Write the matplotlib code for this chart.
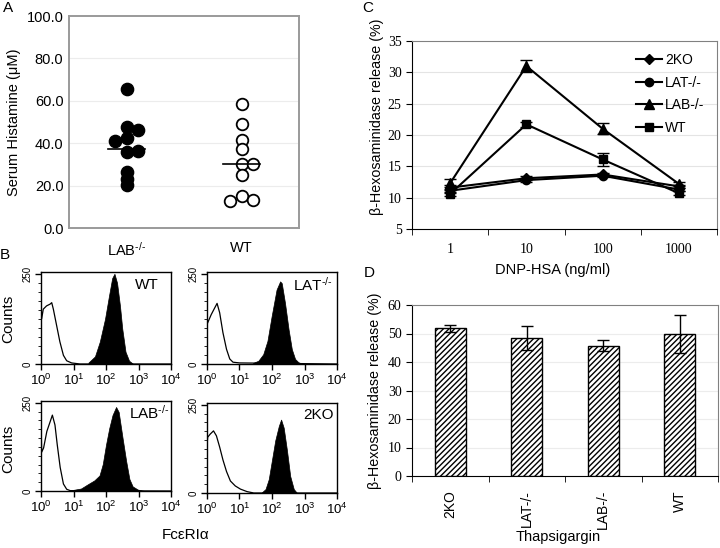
import numpy as np
import matplotlib
matplotlib.use("Agg")
import matplotlib.pyplot as plt
from matplotlib.lines import Line2D

plt.rcParams['font.family'] = ['Liberation Sans', 'DejaVu Sans']
plt.rcParams['mathtext.fontset'] = 'custom'
plt.rcParams['mathtext.rm'] = 'Liberation Sans'
plt.rcParams['mathtext.it'] = 'Liberation Sans:italic'
plt.rcParams['mathtext.bf'] = 'Liberation Sans:bold'
plt.rcParams['hatch.linewidth'] = 1.0
SERIF = ['Liberation Serif', 'DejaVu Serif']
KO = "$^{\u2010/\u2010}$"

# ---------------- Panel A data ----------------
a_groups = ["LAB" + KO, "WT"]
a_lab_vals = [65.6, 47.6, 46.0, 41.0, 42.4, 35.9, 36.1, 26.5, 23.1, 20.4]
a_lab_off = [0, 0, 0.1, -0.1, 0, 0, 0.1, 0, 0, 0]
a_wt_vals = [58.4, 49.0, 41.7, 37.2, 30.1, 30.2, 25.0, 15.2, 12.7, 13.0]
a_wt_off = [0, 0, 0, 0, 0, 0.1, 0, 0, -0.1, 0.1]
a_medians = [37.2, 30.0]
a_yticks = [0, 20, 40, 60, 80, 100]

# ---------------- Panel C data ----------------
c_doses = ["1", "10", "100", "1000"]
c_2ko = [11.6, 13.1, 13.7, 11.8]
c_2ko_err = [0.4, 0.3, 0.2, 0.3]
c_lat = [11.1, 12.8, 13.5, 11.3]
c_lat_err = [0.3, 0.3, 0.2, 0.3]
c_lab = [12.3, 31.0, 21.0, 12.2]
c_lab_err = [0.6, 1.0, 0.9, 0.3]
c_wt = [10.6, 21.7, 16.1, 10.7]
c_wt_err = [0.3, 0.4, 1.0, 0.3]

# ---------------- Panel D data ----------------
d_groups = ["2KO", "LAT-/-", "LAB-/-", "WT"]
d_vals = [51.9, 48.4, 45.7, 49.8]
d_err = [1.2, 4.3, 2.0, 6.8]

# ---------------- Panel B data (log10 intensity, counts) ----------------
b_names = ["WT", "LAT" + KO, "LAB" + KO, "2KO"]
b_open_x = [
    [0.0, 0.005, 0.02, 0.07, 0.17, 0.28, 0.33, 0.38, 0.48, 0.58, 0.69, 0.79, 0.94, 1.2, 4.0],
    [0.0, 0.13, 0.24, 0.31, 0.39, 0.49, 0.60, 0.70, 0.80, 1.0, 4.0],
    [0.0, 0.005, 0.02, 0.08, 0.18, 0.28, 0.35, 0.43, 0.50, 0.59, 0.69, 0.79, 0.90, 4.0],
    [0.0, 0.005, 0.02, 0.1, 0.2, 0.29, 0.39, 0.49, 0.60, 0.72, 0.87, 1.03, 1.23, 1.44, 4.0],
]
b_open_y = [
    [116, 170, 125, 152, 161, 166, 170, 152, 107, 62, 24, 9, 3, 0, 0],
    [110, 137, 156, 168, 142, 87, 41, 14, 5, 3, 0],
    [104, 175, 110, 122, 169, 196, 215, 187, 131, 67, 20, 5, 1, 0],
    [200, 140, 158, 167, 176, 162, 130, 94, 61, 34, 20, 11, 4, 0, 0],
]
b_fill_x = [
    [1.46, 1.66, 1.81, 1.97, 2.09, 2.19, 2.26, 2.34, 2.43, 2.50, 2.60, 2.71, 2.84],
    [1.42, 1.58, 1.73, 1.86, 1.99, 2.14, 2.25, 2.30, 2.40, 2.51, 2.61, 2.71, 2.81, 2.95],
    [0.92, 1.23, 1.44, 1.64, 1.80, 1.90, 2.00, 2.10, 2.20, 2.31, 2.39, 2.51, 2.62, 2.72, 2.82, 2.98, 3.18],
    [1.69, 1.80, 1.90, 2.00, 2.10, 2.21, 2.28, 2.36, 2.46, 2.56, 2.67, 2.77],
]
b_fill_y = [
    [4, 21, 62, 125, 188, 238, 250, 225, 161, 98, 34, 9, 0],
    [3, 9, 27, 64, 133, 206, 229, 224, 169, 96, 41, 14, 5, 0],
    [2, 7, 19, 30, 44, 76, 131, 178, 215, 238, 224, 150, 85, 34, 13, 4, 0],
    [2, 11, 39, 94, 149, 190, 208, 185, 121, 48, 11, 0],
]

W, H = 720, 548
fig = plt.figure(figsize=(W / 100, H / 100), dpi=100)


def ax_px(l, t, r, b):
    return fig.add_axes([l / W, 1 - b / H, (r - l) / W, (b - t) / H])


# ---------------- Panel A ----------------
axA = ax_px(69, 16, 299, 228)
axA.scatter(np.array(a_lab_off) + 0, a_lab_vals, s=78, c='black', zorder=3)
axA.scatter(np.array(a_wt_off) + 1, a_wt_vals, s=70, facecolors='white',
            edgecolors='black', linewidths=1.3, zorder=3)
for i, m in enumerate(a_medians):
    axA.plot([i - 0.165, i + 0.165], [m, m], color='black', lw=1.2, zorder=4)
axA.set_xlim(-0.5, 1.5)
axA.set_ylim(0, 100)
axA.set_yticks(a_yticks)
axA.set_yticklabels([f"{v:.1f}" for v in a_yticks], fontsize=10.5)
axA.set_xticks([0, 1])
axA.set_xticklabels(a_groups, fontsize=10.5)
axA.tick_params(axis='both', length=0, pad=4)
axA.tick_params(axis='x', pad=9)
for v in a_yticks[1:-1]:
    axA.axhline(v, color='#ececec', lw=0.8, zorder=0)
for s in axA.spines.values():
    s.set_color('#9a9a9a')
    s.set_linewidth(1.4)
axA.set_ylabel("Serum Histamine (\u03bcM)", fontsize=10.5, labelpad=4)

# ---------------- Panel C ----------------
axC = ax_px(412, 41, 717, 229)
xc = np.arange(len(c_doses))
series = [(c_2ko, c_2ko_err, 'D', 5.5, '2KO'),
          (c_lat, c_lat_err, 'o', 6, 'LAT-/-'),
          (c_lab, c_lab_err, '^', 7, 'LAB-/-'),
          (c_wt, c_wt_err, 's', 6, 'WT')]
handles = []
for vals, err, mk, ms, lab in series:
    axC.errorbar(xc, vals, yerr=err, color='black', lw=1.5, marker=mk, ms=ms,
                 capsize=4, elinewidth=1.0, capthick=1.0, zorder=3)
    handles.append(Line2D([], [], color='black', lw=1.5, marker=mk, ms=ms, label=lab))
axC.set_xlim(-0.5, 3.5)
axC.set_ylim(5, 35)
axC.set_yticks(range(5, 36, 5))
axC.set_xticks(xc)
axC.set_xticklabels(c_doses)
axC.set_xticks(np.arange(-0.5, 3.6, 1), minor=True)
axC.tick_params(axis='x', which='major', length=0, pad=10)
axC.tick_params(axis='x', which='minor', length=4, direction='out')
axC.tick_params(axis='y', length=4, direction='out')
for lbl in axC.get_xticklabels() + axC.get_yticklabels():
    lbl.set_family(SERIF)
    lbl.set_fontsize(10)
for v in range(10, 31, 5):
    axC.axhline(v, color='#e4e4e4', lw=0.8, zorder=0)
axC.spines['top'].set_color('#808080')
axC.spines['right'].set_color('#808080')
fig.text(553 / W, 1 - 270 / H, "DNP-HSA (ng/ml)", ha='center', va='center', fontsize=10.5)
fig.text(377 / W, 1 - 117 / H, "\u03b2-Hexosaminidase release (%)", rotation=90,
         ha='center', va='center', fontsize=10.3)
fig.legend(handles=handles, loc='upper left', bbox_to_anchor=(636 / W, 1 - 53 / H),
           frameon=False, fontsize=10, handlelength=1.9, handletextpad=0.2,
           labelspacing=0.62, borderpad=0, borderaxespad=0)

# ---------------- Panel D ----------------
axD = ax_px(412, 305, 718, 476)
xd = np.arange(len(d_groups))
axD.bar(xd, d_vals, width=0.4, color='white', edgecolor='black', hatch='//////',
        lw=1.0, zorder=3)
axD.errorbar(xd, d_vals, yerr=d_err, fmt='none', ecolor='black', elinewidth=1.0,
             capsize=4, capthick=1.0, zorder=4)
axD.set_xlim(-0.5, 3.5)
axD.set_ylim(0, 60)
axD.set_yticks(range(0, 61, 10))
axD.set_xticks(xd)
axD.set_xticklabels(d_groups, rotation=90, fontsize=10)
axD.set_xticks(np.arange(-0.5, 3.6, 1), minor=True)
axD.tick_params(axis='x', which='major', length=0, pad=10)
axD.tick_params(axis='x', which='minor', length=4, direction='out')
axD.tick_params(axis='y', length=4, direction='out')
for lbl in axD.get_yticklabels():
    lbl.set_family(SERIF)
    lbl.set_fontsize(10)
for v in range(10, 51, 10):
    axD.axhline(v, color='#ececec', lw=0.8, zorder=0)
axD.spines['top'].set_color('#808080')
axD.spines['right'].set_color('#808080')
fig.text(558 / W, 1 - 537 / H, "Thapsigargin", ha='center', va='center', fontsize=10.5)
fig.text(375 / W, 1 - 391 / H, "\u03b2-Hexosaminidase release (%)", rotation=90,
         ha='center', va='center', fontsize=10.3)

# ---------------- Panel B ----------------
hist_boxes = [(41, 272, 171, 364), (207, 272, 337, 364),
              (41, 401, 171, 491), (207, 403, 337, 493)]
name_pos = [(147, 285), (313, 285), (149, 413), (318, 415)]
for k, box in enumerate(hist_boxes):
    ax = ax_px(*box)
    ox = 10 ** np.array(b_open_x[k])
    ax.plot(ox, b_open_y[k], color='black', lw=0.9)
    fx = 10 ** np.array(b_fill_x[k])
    ax.fill_between(fx, 0, b_fill_y[k], color='black', lw=0.5)
    ax.set_xscale('log')
    ax.set_xlim(1, 1e4)
    ax.set_ylim(0, 255)
    ax.set_xticks([1, 10, 100, 1000, 10000])
    ax.set_xticklabels([f"$10^{{{i}}}$" for i in range(5)], fontsize=9.5)
    ax.set_yticks([0, 250])
    ax.set_yticklabels(["0", "250"], rotation=90, va='center', fontsize=7)
    ax.set_yticks(np.arange(0, 251, 25), minor=True)
    ax.tick_params(axis='both', which='major', length=4, width=1.0, direction='out', pad=2)
    ax.tick_params(axis='both', which='minor', length=2, width=0.6, direction='out')
    for s in ax.spines.values():
        s.set_linewidth(1.0)
    fig.text(name_pos[k][0] / W, 1 - name_pos[k][1] / H, b_names[k],
             ha='center', va='center', fontsize=11)

fig.text(8 / W, 1 - 319 / H, "Counts", rotation=90, ha='center', va='center', fontsize=11)
fig.text(8 / W, 1 - 449 / H, "Counts", rotation=90, ha='center', va='center', fontsize=11)
fig.text(186 / W, 1 - 535 / H, "Fc\u03b5RI\u03b1", ha='center', va='center', fontsize=11)

# Panel letters
fig.text(8 / W, 1 - 8 / H, "A", ha='center', va='center', fontsize=11)
fig.text(5 / W, 1 - 255 / H, "B", ha='center', va='center', fontsize=11)
fig.text(368 / W, 1 - 8 / H, "C", ha='center', va='center', fontsize=11)
fig.text(369 / W, 1 - 273 / H, "D", ha='center', va='center', fontsize=11)

fig.savefig("out.png", dpi=100)
